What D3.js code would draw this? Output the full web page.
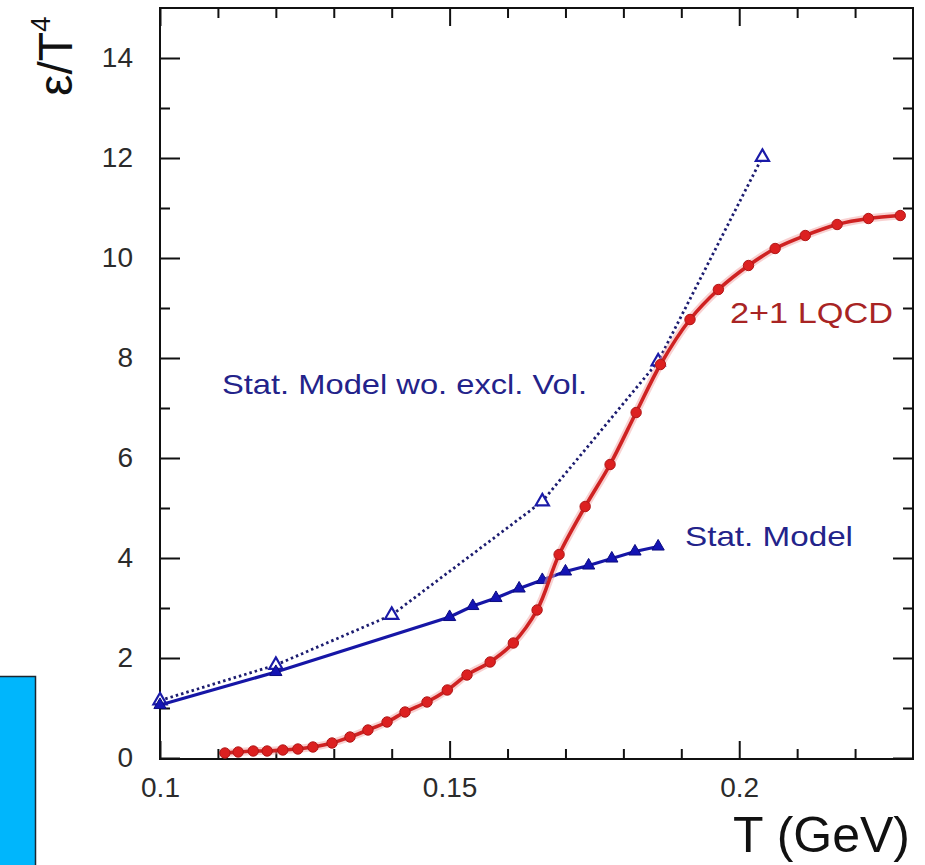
<!DOCTYPE html>
<html>
<head>
<meta charset="utf-8">
<script src="https://cdn.jsdelivr.net/npm/d3@7"></script>
<style>
  html, body { margin: 0; padding: 0; background: #fff; }
  svg { display: block; }
</style>
</head>
<body>
<svg id="chart" width="925" height="865"></svg>
<script>
// Energy density over T^4 versus temperature
const lqcdT = [0.1112,0.1135,0.1161,0.1185,0.1212,0.1238,0.1264,0.1297,0.1328,0.1359,0.1392,0.1423,0.1461,0.1496,0.1530,0.1570,0.1610,0.1651,0.1689,0.1734,0.1777,0.1822,0.1864,0.1915,0.1964,0.2016,0.2062,0.2114,0.2169,0.2223,0.2278];
const lqcdE = [0.10,0.12,0.14,0.14,0.16,0.18,0.22,0.30,0.42,0.56,0.72,0.92,1.12,1.36,1.66,1.92,2.30,2.96,4.07,5.03,5.87,6.91,7.87,8.77,9.37,9.85,10.19,10.45,10.67,10.79,10.85];

const statT = [0.100,0.120,0.150,0.154,0.158,0.162,0.166,0.170,0.174,0.178,0.182,0.186];
const statE = [1.06,1.72,2.82,3.04,3.20,3.39,3.56,3.73,3.85,3.99,4.13,4.23];

const noVolT = [0.100,0.120,0.140,0.166,0.186,0.204];
const noVolE = [1.15,1.86,2.86,5.13,7.93,12.02];

const xMajor = [0.1, 0.15, 0.2];
const xMinor = [0.11,0.12,0.13,0.14,0.16,0.17,0.18,0.19,0.21,0.22];
const yMajor = [0,2,4,6,8,10,12,14];
const yMinor = [1,3,5,7,9,11,13];

const svg = d3.select("#chart");
const plotL = 160, plotR = 913, plotT = 8, plotB = 759;

const x = d3.scaleLinear().domain([0.1, 0.23]).range([plotL, plotR]);
const y = d3.scaleLinear().domain([0, 15]).range([758, plotT]);

const FONT = "'Liberation Sans', Arial, Helvetica, sans-serif";

// side panel
svg.append("rect").attr("x", -2).attr("y", 676.5).attr("width", 37.5).attr("height", 200)
  .attr("fill", "#00b6fc").attr("stroke", "#1a2630").attr("stroke-width", 1.5);

// axes: majors with labels, minors without
function styleAxis(g) {
  g.select(".domain").remove();
  g.selectAll(".tick line").attr("stroke", "#111").attr("stroke-width", 2);
  g.selectAll(".tick text").attr("fill", "#2b2b2b").style("font-family", FONT).style("font-size", "28px");
}

svg.append("g").attr("transform", `translate(0,${plotB})`)
  .call(d3.axisBottom(x).tickValues(xMajor).tickFormat(d3.format("~g")).tickSize(-18).tickPadding(18))
  .call(styleAxis);
svg.append("g").attr("transform", `translate(0,${plotB})`)
  .call(d3.axisBottom(x).tickValues(xMinor).tickFormat("").tickSize(-10))
  .call(styleAxis);
svg.append("g").attr("transform", `translate(0,${plotT})`)
  .call(d3.axisTop(x).tickValues(xMajor).tickFormat("").tickSize(-18))
  .call(styleAxis);
svg.append("g").attr("transform", `translate(0,${plotT})`)
  .call(d3.axisTop(x).tickValues(xMinor).tickFormat("").tickSize(-10))
  .call(styleAxis);

svg.append("g").attr("transform", `translate(${plotL},0)`)
  .call(d3.axisLeft(y).tickValues(yMajor).tickSize(-20).tickPadding(27))
  .call(styleAxis);
svg.append("g").attr("transform", `translate(${plotL},0)`)
  .call(d3.axisLeft(y).tickValues(yMinor).tickFormat("").tickSize(-10))
  .call(styleAxis);
svg.append("g").attr("transform", `translate(${plotR},0)`)
  .call(d3.axisRight(y).tickValues(yMajor).tickFormat("").tickSize(-20))
  .call(styleAxis);
svg.append("g").attr("transform", `translate(${plotR},0)`)
  .call(d3.axisRight(y).tickValues(yMinor).tickFormat("").tickSize(-10))
  .call(styleAxis);

// frame
svg.append("rect").attr("x", plotL).attr("y", plotT).attr("width", plotR - plotL).attr("height", plotB - plotT)
  .attr("fill", "none").attr("stroke", "#111").attr("stroke-width", 2);

const plot = svg.append("g");

// dotted: statistical model without excluded volume
const noVol = noVolT.map((t, i) => [t, noVolE[i]]);
plot.append("path").datum(noVol)
  .attr("d", d3.line().x(d => x(d[0])).y(d => y(d[1])))
  .attr("fill", "none").attr("stroke", "#1c1c70").attr("stroke-width", 2.8)
  .attr("stroke-dasharray", "2.5,3");
const tri = d3.symbol().type(d3.symbolTriangle);
plot.selectAll(".nv").data(noVol).join("path")
  .attr("transform", d => `translate(${x(d[0])},${y(d[1])})`)
  .attr("d", tri.size(75)())
  .attr("fill", "#fff").attr("stroke", "#1a1aa8").attr("stroke-width", 2.2);

// solid: statistical model
const stat = statT.map((t, i) => [t, statE[i]]);
plot.append("path").datum(stat)
  .attr("d", d3.line().x(d => x(d[0])).y(d => y(d[1])))
  .attr("fill", "none").attr("stroke", "#1616a6").attr("stroke-width", 3.2);
plot.selectAll(".st").data(stat).join("path")
  .attr("transform", d => `translate(${x(d[0])},${y(d[1])})`)
  .attr("d", tri.size(65)())
  .attr("fill", "#1414b4").attr("stroke", "#0c0c80").attr("stroke-width", 1);

// lattice QCD 2+1
const lqcd = lqcdT.map((t, i) => [t, lqcdE[i]]);
const lqcdLine = d3.line().x(d => x(d[0])).y(d => y(d[1])).curve(d3.curveCatmullRom);
plot.append("path").datum(lqcd).attr("d", lqcdLine)
  .attr("fill", "none").attr("stroke", "#f2a4a4").attr("stroke-width", 8).attr("opacity", 0.5);
plot.append("path").datum(lqcd).attr("d", lqcdLine)
  .attr("fill", "none").attr("stroke", "#cf2222").attr("stroke-width", 3.6);
plot.selectAll(".lq").data(lqcd).join("circle")
  .attr("cx", d => x(d[0])).attr("cy", d => y(d[1])).attr("r", 5.2)
  .attr("fill", "#dc2020").attr("stroke", "#b01818").attr("stroke-width", 1);

// curve labels
svg.append("text").attr("x", 222).attr("y", 394)
  .attr("textLength", 365).attr("lengthAdjust", "spacingAndGlyphs")
  .style("font-family", FONT).style("font-size", "28px").attr("fill", "#23238a")
  .text("Stat. Model wo. excl. Vol.");
svg.append("text").attr("x", 685).attr("y", 546)
  .attr("textLength", 168).attr("lengthAdjust", "spacingAndGlyphs")
  .style("font-family", FONT).style("font-size", "28px").attr("fill", "#23238a")
  .text("Stat. Model");
svg.append("text").attr("x", 730).attr("y", 323)
  .attr("textLength", 163).attr("lengthAdjust", "spacingAndGlyphs")
  .style("font-family", FONT).style("font-size", "30px").attr("fill", "#a82424")
  .text("2+1 LQCD");

// axis titles
svg.append("text").attr("x", 910).attr("y", 852).attr("text-anchor", "end")
  .style("font-family", FONT).style("font-size", "50px").attr("fill", "#111")
  .text("T (GeV)");

const yt = svg.append("text").attr("transform", "translate(72,96) rotate(-90)")
  .style("font-family", FONT).style("font-size", "48px").attr("fill", "#111");
yt.append("tspan").text("ε/T");
yt.append("tspan").attr("dy", -22).style("font-size", "28px").text("4");
</script>
</body>
</html>
